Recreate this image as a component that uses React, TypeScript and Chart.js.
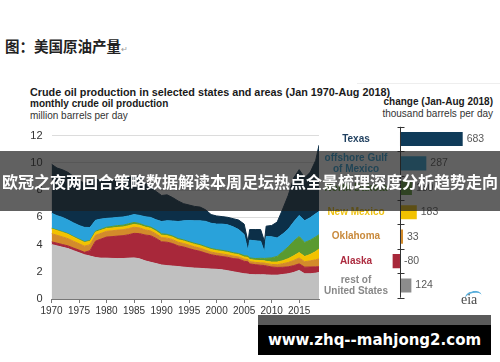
import React, { useEffect, useRef } from 'react';
import { Chart, registerables } from 'chart.js';
Chart.register(...registerables);

// ---------- area chart data (million barrels per day) ----------
const years = [
  1970, 1971, 1972, 1973, 1974, 1975, 1976, 1977, 1978, 1979,
  1980, 1981, 1982, 1983, 1984, 1985, 1986, 1987, 1988, 1989,
  1990, 1991, 1992, 1993, 1994, 1995, 1996, 1997, 1998, 1999,
  2000, 2001, 2002, 2003, 2004, 2005, 2005.7, 2006, 2007, 2008, 2008.7, 2009,
  2010, 2011, 2012, 2013, 2014, 2015, 2016, 2017, 2018, 2018.6,
];
const restUS = [
  4.0, 3.9, 3.8, 3.7, 3.55, 3.4, 3.25, 3.15, 3.05, 3.0,
  3.0, 2.98, 2.97, 2.97, 3.0, 3.02, 2.95, 2.8, 2.7, 2.6,
  2.5, 2.45, 2.42, 2.38, 2.34, 2.3, 2.27, 2.25, 2.22, 2.2,
  2.18, 2.14, 2.08, 2.0, 1.93, 1.85, 1.83, 1.8, 1.78, 1.78, 1.78, 1.77,
  1.75, 1.75, 1.8, 1.85, 1.95, 2.1, 1.85, 1.85, 1.9, 1.95,
];
const alaska = [
  0.2, 0.2, 0.2, 0.2, 0.19, 0.19, 0.18, 0.4, 1.2, 1.4,
  1.55, 1.6, 1.65, 1.68, 1.72, 1.8, 1.85, 1.9, 1.95, 1.85,
  1.7, 1.72, 1.65, 1.52, 1.48, 1.4, 1.32, 1.25, 1.15, 1.05,
  1.0, 0.98, 0.98, 0.97, 1.0, 0.92, 0.9, 0.78, 0.74, 0.7, 0.68, 0.66,
  0.6, 0.57, 0.53, 0.51, 0.5, 0.48, 0.49, 0.5, 0.46, 0.42,
];
const oklahoma = [
  0.6, 0.58, 0.56, 0.53, 0.5, 0.47, 0.45, 0.44, 0.43, 0.42,
  0.42, 0.43, 0.44, 0.44, 0.45, 0.45, 0.42, 0.38, 0.35, 0.33,
  0.31, 0.3, 0.29, 0.27, 0.26, 0.25, 0.24, 0.23, 0.22, 0.2,
  0.19, 0.19, 0.18, 0.18, 0.16, 0.16, 0.16, 0.17, 0.17, 0.18, 0.18, 0.18,
  0.19, 0.2, 0.26, 0.32, 0.38, 0.43, 0.4, 0.45, 0.52, 0.58,
];
const newMexico = [
  0.35, 0.34, 0.33, 0.32, 0.3, 0.28, 0.27, 0.25, 0.23, 0.22,
  0.2, 0.2, 0.2, 0.2, 0.21, 0.21, 0.2, 0.2, 0.19, 0.19,
  0.18, 0.18, 0.18, 0.18, 0.18, 0.18, 0.18, 0.18, 0.18, 0.18,
  0.18, 0.18, 0.18, 0.17, 0.16, 0.16, 0.16, 0.16, 0.16, 0.16, 0.16, 0.16,
  0.17, 0.19, 0.22, 0.28, 0.34, 0.4, 0.38, 0.47, 0.6, 0.72,
];
const northDakota = [
  0.05, 0.05, 0.05, 0.05, 0.05, 0.06, 0.06, 0.06, 0.07, 0.08,
  0.1, 0.12, 0.13, 0.13, 0.14, 0.14, 0.12, 0.11, 0.1, 0.1,
  0.1, 0.1, 0.09, 0.09, 0.08, 0.08, 0.08, 0.08, 0.08, 0.08,
  0.08, 0.08, 0.08, 0.08, 0.09, 0.1, 0.1, 0.11, 0.12, 0.17, 0.18, 0.22,
  0.31, 0.42, 0.66, 0.86, 1.08, 1.18, 1.03, 1.05, 1.08, 1.05,
];
const gulfOfMexico = [
  1.1, 1.05, 1.05, 1.0, 1.0, 1.0, 1.05, 0.95, 0.8, 0.75,
  0.65, 0.62, 0.6, 0.6, 0.58, 0.58, 0.6, 0.65, 0.7, 0.75,
  0.9, 1.0, 1.1, 1.25, 1.4, 1.55, 1.65, 1.75, 1.85, 1.85,
  1.87, 1.93, 1.95, 1.9, 1.76, 1.55, 0.35, 1.3, 1.3, 1.25, 0.45, 1.6,
  1.55, 1.35, 1.3, 1.3, 1.4, 1.55, 1.6, 1.65, 1.7, 1.7,
];
const texas = [
  3.6, 3.5, 3.5, 3.5, 3.4, 3.3, 3.25, 3.35, 3.0, 2.9,
  2.8, 2.75, 2.75, 2.73, 2.8, 2.85, 2.85, 2.46, 2.31, 2.08,
  1.91, 1.9, 1.72, 1.51, 1.26, 1.14, 1.06, 1.01, 0.85, 0.64,
  0.6, 0.55, 0.55, 0.6, 0.7, 0.76, 0.7, 0.78, 0.83, 0.86, 0.8, 0.76,
  0.83, 1.17, 1.83, 2.48, 3.25, 3.36, 3.15, 3.33, 3.92, 4.88,
];
const xTickYears = [1970, 1975, 1980, 1985, 1990, 1995, 2000, 2005, 2010, 2015];

// ---------- bar chart data (thousand barrels per day) ----------
const barLabels = [
  ['Texas'],
  ['offshore Gulf', 'of Mexico'],
  ['North Dakota'],
  ['New Mexico'],
  ['Oklahoma'],
  ['Alaska'],
  ['rest of', 'United States'],
];
const barValues = [683, 287, 130, 183, 33, -80, 124];
const barColors = ['#0f3b59', '#2aa0d8', '#5a9a30', '#f2c200', '#d38b2b', '#a8283a', '#8c8c8c'];
const labelColors = ['#1f3f5f', '#2a9fd6', '#5a9a30', '#eec212', '#c98a3c', '#ad2c40', '#888888'];

const FONT = '"Liberation Sans", Arial, sans-serif';

const areaSeries = [
  { label: 'rest of United States', data: restUS, color: '#c0c0c0' },
  { label: 'Alaska', data: alaska, color: '#a8283a' },
  { label: 'Oklahoma', data: oklahoma, color: '#d38b2b' },
  { label: 'New Mexico', data: newMexico, color: '#f2c200' },
  { label: 'North Dakota', data: northDakota, color: '#5a9a30' },
  { label: 'offshore Gulf of Mexico', data: gulfOfMexico, color: '#29a2da' },
  { label: 'Texas', data: texas, color: '#0c2f48' },
];

const zeroAxisPlugin = {
  id: 'zeroAxis',
  afterDatasetsDraw(chart: any) {
    const { ctx, chartArea, scales } = chart;
    const xs = scales.x;
    const ys = scales.y;
    const x0 = Math.round(xs.getPixelForValue(0)) + 0.5;
    const n = chart.data.labels.length;
    const step = ys.getPixelForValue(1) - ys.getPixelForValue(0);
    const first = ys.getPixelForValue(0) - step / 2;
    ctx.save();
    ctx.strokeStyle = '#333';
    ctx.lineWidth = 1;
    ctx.beginPath();
    ctx.moveTo(x0, chartArea.top);
    ctx.lineTo(x0, chartArea.bottom);
    for (let i = 0; i <= n; i++) {
      const yy = Math.round(first + i * step) + 0.5;
      ctx.moveTo(x0 - 3, yy);
      ctx.lineTo(x0 + 4, yy);
    }
    ctx.stroke();
    ctx.restore();
  },
};

const valueLabelPlugin = {
  id: 'valueLabels',
  afterDatasetsDraw(chart: any) {
    const { ctx, scales } = chart;
    const meta = chart.getDatasetMeta(0);
    const x0 = scales.x.getPixelForValue(0);
    ctx.save();
    ctx.fillStyle = '#595959';
    ctx.font = `10.5px ${FONT}`;
    ctx.textBaseline = 'middle';
    ctx.textAlign = 'left';
    meta.data.forEach((el: any, i: number) => {
      const v = barValues[i];
      const tx = v >= 0 ? el.x + 4 : x0 + 4;
      ctx.fillText(String(v), tx, el.y);
    });
    // category labels, centred in the label column
    ctx.font = `bold 10px ${FONT}`;
    ctx.textAlign = 'center';
    const lh = 11;
    barLabels.forEach((lines, i) => {
      const cy = scales.y.getPixelForValue(i);
      ctx.fillStyle = labelColors[i];
      lines.forEach((line, k) => {
        const yy = cy + (k - (lines.length - 1) / 2) * lh;
        ctx.fillText(line, 36, yy);
      });
    });
    ctx.restore();
  },
};

export default function App() {
  const areaRef = useRef<HTMLCanvasElement>(null);
  const barRef = useRef<HTMLCanvasElement>(null);

  useEffect(() => {
    const area = new Chart(areaRef.current as HTMLCanvasElement, {
      type: 'line',
      data: {
        datasets: areaSeries.map((s, i) => ({
          label: s.label,
          data: years.map((x, j) => ({ x, y: s.data[j] })),
          backgroundColor: s.color,
          borderColor: s.color,
          borderWidth: 1,
          pointRadius: 0,
          fill: i === 0 ? 'origin' : '-1',
          tension: 0,
        })),
      },
      options: {
        animation: false,
        responsive: false,
        maintainAspectRatio: false,
        layout: { padding: { top: 7, right: 11, left: 0, bottom: 0 } },
        plugins: { legend: { display: false }, tooltip: { enabled: false } },
        scales: {
          x: {
            type: 'linear',
            min: 1970,
            max: 2018.6,
            afterBuildTicks: (s: any) => {
              s.ticks = xTickYears.map((v) => ({ value: v }));
            },
            afterFit: (s: any) => {
              s.height = 21;
            },
            ticks: {
              callback: (v: any) => String(v),
              color: '#333',
              font: { family: FONT, size: 10 },
              padding: 2,
              maxRotation: 0,
              autoSkip: false,
              includeBounds: false,
            },
            grid: { drawOnChartArea: false, drawTicks: true, tickLength: 4, color: '#777' },
            border: { display: true, color: '#777' },
          },
          y: {
            stacked: true,
            min: 0,
            max: 12,
            afterFit: (s: any) => {
              s.width = 51.5;
            },
            ticks: { stepSize: 2, color: '#333', font: { family: FONT, size: 11 }, padding: 9 },
            grid: { color: '#dcdcdc', drawTicks: false },
            border: { display: false },
          },
        },
      },
    } as any);

    const bar = new Chart(barRef.current as HTMLCanvasElement, {
      type: 'bar',
      data: {
        labels: barLabels.map((l) => l.join(' ')),
        datasets: [
          {
            data: barValues,
            backgroundColor: barColors,
            barPercentage: 0.58,
            categoryPercentage: 1,
          },
        ],
      },
      options: {
        indexAxis: 'y',
        animation: false,
        responsive: false,
        maintainAspectRatio: false,
        layout: { padding: { top: 6.8, bottom: 7.3, left: 0, right: 8.2 } },
        plugins: { legend: { display: false }, tooltip: { enabled: false } },
        scales: {
          x: { display: false, min: -100, max: 1000 },
          y: {
            afterFit: (s: any) => {
              s.width = 70.8;
            },
            grid: { display: false },
            border: { display: false },
            ticks: { display: false },
          },
        },
      },
      plugins: [zeroAxisPlugin, valueLabelPlugin],
    } as any);

    return () => {
      area.destroy();
      bar.destroy();
    };
  }, []);

  const abs = (left: number, top: number, extra: React.CSSProperties = {}): React.CSSProperties => ({
    position: 'absolute',
    left,
    top,
    whiteSpace: 'nowrap',
    ...extra,
  });

  return (
    <div
      style={{
        position: 'fixed',
        left: 0,
        top: 0,
        width: 500,
        height: 362,
        background: '#ffffff',
        overflow: 'hidden',
        fontFamily: FONT,
      }}
    >
      <div
        style={abs(5, 36, {
          fontFamily: '"Noto Sans CJK SC", serif',
          fontSize: 14.5,
          fontWeight: 'bold',
          lineHeight: '20px',
          color: '#222',
        })}
      >
        图：美国原油产量<span style={{ fontSize: 8, color: '#999', fontWeight: 'normal' }}>↵</span>
      </div>

      <div style={abs(30, 85, { fontSize: 10.8, fontWeight: 'bold', lineHeight: '14px', color: '#1a1a1a' })}>
        Crude oil production in selected states and areas (Jan 1970-Aug 2018)
      </div>
      <div style={abs(30, 97, { fontSize: 10, fontWeight: 'bold', lineHeight: '14px', color: '#1a1a1a' })}>
        monthly crude oil production
      </div>
      <div style={abs(30, 109, { fontSize: 10, lineHeight: '14px', color: '#333' })}>
        million barrels per day
      </div>

      <div style={abs(357, 83, { width: 143, height: 1, background: '#eeeeee' })} />
      <div
        style={{
          position: 'absolute',
          right: 7,
          top: 96,
          textAlign: 'right',
          fontSize: 10,
          lineHeight: '12px',
          color: '#1a1a1a',
          whiteSpace: 'nowrap',
        }}
      >
        <div style={{ fontWeight: 'bold' }}>change (Jan-Aug 2018)</div>
        <div style={{ color: '#333' }}>thousand barrels per day</div>
      </div>

      <canvas ref={areaRef} width={330} height={200} style={abs(0, 120, { width: 330, height: 200 })} />
      <canvas ref={barRef} width={180} height={185} style={abs(320, 120, { width: 180, height: 185 })} />

      <div
        style={abs(465, 291, {
          width: 17,
          height: 12,
          borderTop: '2px solid #58aedb',
          borderRadius: '60% 60% 0 0',
          transform: 'rotate(-12deg)',
          boxSizing: 'border-box',
        })}
      />
      <div
        style={abs(461, 292, {
          fontFamily: '"Liberation Serif", "DejaVu Serif", serif',
          fontSize: 14,
          lineHeight: '16px',
          color: '#4a4a4a',
        })}
      >
        eia
      </div>

      <div
        style={{
          position: 'absolute',
          left: 0,
          top: 151,
          width: 500,
          height: 60,
          background: 'rgba(30,30,30,0.7)',
          display: 'flex',
          alignItems: 'center',
          justifyContent: 'center',
          color: '#ffffff',
          fontFamily: '"Noto Sans CJK SC", sans-serif',
          fontWeight: 'bold',
          fontSize: 16,
          whiteSpace: 'nowrap',
        }}
      >
        欧冠之夜两回合策略数据解读本周足坛热点全景梳理深度分析趋势走向
      </div>

      <div style={abs(258, 315, { width: 233, height: 10, background: '#5a5a5a' })} />
      <div
        style={{
          position: 'absolute',
          left: 258,
          top: 325,
          width: 233,
          height: 30,
          background: '#000000',
          color: '#ffffff',
          display: 'flex',
          alignItems: 'center',
          justifyContent: 'center',
          fontFamily: '"DejaVu Sans", sans-serif',
          fontWeight: 'bold',
          fontSize: 15,
          whiteSpace: 'nowrap',
        }}
      >
        www.zhq--mahjong2.com
      </div>
    </div>
  );
}
